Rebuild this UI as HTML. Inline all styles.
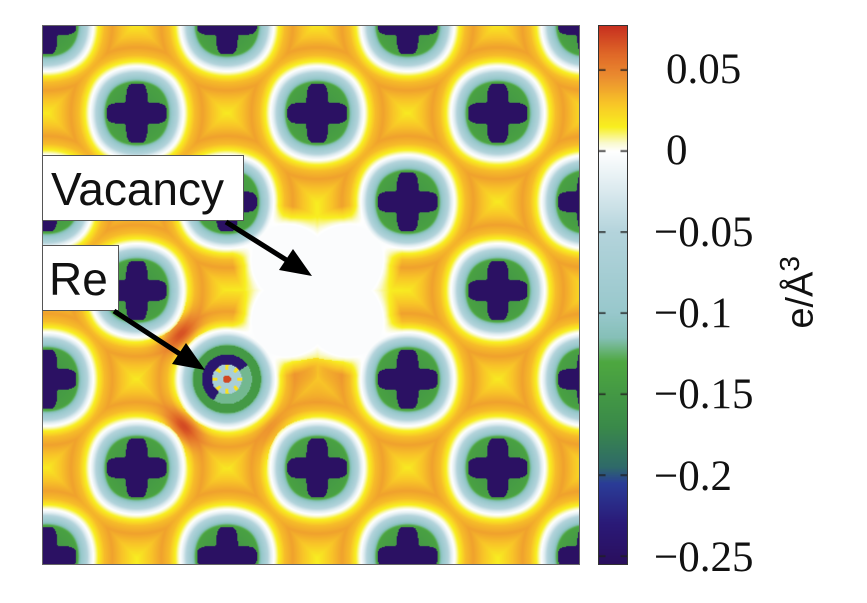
<!DOCTYPE html>
<html><head><meta charset="utf-8">
<style>
html,body{margin:0;padding:0;background:#fff;}
body{width:867px;height:603px;position:relative;overflow:hidden;font-family:"Liberation Sans",sans-serif;}
#map{position:absolute;left:42px;top:25px;width:538px;height:540px;border:1px solid #666;box-sizing:border-box;}
#cbar{position:absolute;left:598px;top:25px;width:30px;height:540px;border:1px solid #333;box-sizing:border-box;}
.tick{position:absolute;font-family:"Liberation Serif",serif;font-size:43px;color:#111;line-height:1;}
.lbl{position:absolute;background:#fff;border:1.5px solid #555;font-size:46px;color:#111;line-height:1;box-sizing:border-box;}
#unit{position:absolute;left:762px;top:268px;transform:rotate(-90deg);transform-origin:center;font-size:38px;color:#111;font-family:"Liberation Sans",sans-serif;white-space:nowrap;}
svg{position:absolute;left:0;top:0;}
</style></head><body>
<canvas id="map" width="538" height="540"></canvas>
<canvas id="cbar" width="30" height="540"></canvas>
<div id="ticks"></div>
<div id="unit">e/Å<sup style="font-size:28px">3</sup></div>
<div class="lbl" style="left:42px;top:155px;width:202px;height:66px;padding:10px 0 0 8px">Vacancy</div>
<div class="lbl" style="left:42px;top:245px;width:77px;height:66px;padding:10px 0 0 6px">Re</div>
<svg width="867" height="603">
<line x1="226" y1="222" x2="288" y2="261" stroke="#000" stroke-width="5"/>
<polygon points="312,276 279,270 293,249" fill="#000"/>
<line x1="114" y1="311" x2="183" y2="356" stroke="#000" stroke-width="5"/>
<polygon points="205,370 172,364 186,343" fill="#000"/>
</svg>
<script>
// colorbar data
const tickValues=[0.05,0,-0.05,-0.1,-0.15,-0.2,-0.25];
const tickLabels=["0.05","0","\u22120.05","\u22120.1","\u22120.15","\u22120.2","\u22120.25"];
const vMin=-0.255, vMax=0.077;
const cmapValues=[-0.255,-0.23,-0.205,-0.195,-0.17,-0.13,-0.115,-0.1,-0.05,-0.02,0,0.005,0.015,0.03,0.045,0.06,0.077];
const cmapColors=["#2b0f5e","#2a1a78","#2a3d98","#2f6a6a","#3a8a4a","#4ea840","#86c0b8","#98c8cc","#b4d4dc","#e2eef2","#ffffff","#fafad0","#f8f020","#f8c428","#ec9030","#e06828","#c83020"];
// lattice data (site indices)
const siteCols=[0,2,4,6,1,3,5,0,2,4,6,1,3,5,0,2,4,6,1,3,5,0,2,4,6];
const siteRows=[0,0,0,0,1,1,1,2,2,2,2,3,3,3,4,4,4,4,5,5,5,6,6,6,6];
const vacancyCol=[3], vacancyRow=[3];
const reCol=[2], reRow=[4];
// radial charge profile: distance (px) -> value
const profD=[0,30,34,40,44,47,52,58,66,76,90];
const profV=[-0.16,-0.14,-0.11,-0.06,-0.02,0,0.015,0.032,0.04,0.03,0.016];
// red hotspots near Re (lattice coords)
const hotCol=[1.45,1.5,2.65,3.0];
const hotRow=[3.45,4.55,4.7,3.9];
const hotVal=[0.035,0.035,0.028,0.015];

const X0=45-42, DX=90.6, Y0=23-25, DY=89;
const sx=c=>X0+DX*c, sy=r=>Y0+DY*r;
function hex(h){return [parseInt(h.substr(1,2),16),parseInt(h.substr(3,2),16),parseInt(h.substr(5,2),16)];}
const cm=cmapColors.map(hex);
function color(v){
  if(v<=cmapValues[0])return cm[0];
  for(let i=1;i<cmapValues.length;i++){if(v<=cmapValues[i]){const t=(v-cmapValues[i-1])/(cmapValues[i]-cmapValues[i-1]);const a=cm[i-1],b=cm[i];return [a[0]+(b[0]-a[0])*t,a[1]+(b[1]-a[1])*t,a[2]+(b[2]-a[2])*t];}}
  return cm[cm.length-1];
}
function prof(d){
  if(d>=profD[profD.length-1])return profV[profV.length-1];
  for(let i=1;i<profD.length;i++)if(d<=profD[i]){const t=(d-profD[i-1])/(profD[i]-profD[i-1]);return profV[i-1]+(profV[i]-profV[i-1])*t;}
}
const atoms=[];
for(let k=0;k<siteCols.length;k++){
  const c=siteCols[k],r=siteRows[k];
  if(c===vacancyCol[0]&&r===vacancyRow[0])continue;
  atoms.push({x:sx(c),y:sy(r),re:(c===reCol[0]&&r===reRow[0])});
}
const vx=sx(vacancyCol[0]), vy=sy(vacancyRow[0]);
const mc=document.getElementById('map').getContext('2d');
const W=538,H=540, img=mc.createImageData(W,H);
for(let y=0;y<H;y++)for(let x=0;x<W;x++){
  let best=1e9,ba=null,bdx=0,bdy=0;
  for(const a of atoms){const dx=x-a.x,dy=y-a.y;const d=Math.pow(dx*dx*dx*dx+dy*dy*dy*dy,0.25)*0.25+Math.hypot(dx,dy)*0.75;if(d<best){best=d;ba=a;bdx=dx;bdy=dy;}}
  let v=prof(best);
  const adx=Math.abs(bdx),ady=Math.abs(bdy);
  if(ba.re){
    const r=Math.hypot(bdx,bdy);
    const ang=Math.atan2(bdy,bdx);
    if(r<4)v=0.07;
    else if(r<15){v=-0.07;if(r>10&&Math.cos(ang*8)>0.5)v=0.02;}
    else if(r<25){v=(Math.sin(ang+0.8)<0.2)?-0.24:-0.12;}
    else if(r<34)v=-0.15;
    else v=prof(r-2);
  } else {
    const px=adx/30, py=ady/11, qx=adx/11, qy=ady/30;
    const plus=Math.min(Math.pow(px*px*px*px+py*py*py*py,0.25),Math.pow(qx*qx*qx*qx+qy*qy*qy*qy,0.25));
    if(plus<1||Math.hypot(adx,ady)<16)v=-0.25;
  }
  // vacancy
  const dvx=x-vx,dvy=y-vy;
  const dv=Math.hypot(dvx,dvy);
  const th=Math.atan2(dvy,dvx);
  const R=52+26*Math.abs(Math.sin(2*th));
  if(dv<R){if(v>-0.02)v=Math.min(v,-0.003);}
  else if(dv<R+22&&v>0){const t=(dv-R)/22;v=-0.003*(1-t)+v*t;}
  for(let h=0;h<hotCol.length;h++){const hx=sx(hotCol[h]),hy=sy(hotRow[h]);const g=Math.exp(-((x-hx)**2+(y-hy)**2)/(2*14*14));if(v>0.01)v+=hotVal[h]*g;}
  const c=color(v),i=(y*W+x)*4;img.data[i]=c[0];img.data[i+1]=c[1];img.data[i+2]=c[2];img.data[i+3]=255;
}
mc.putImageData(img,0,0);
// colorbar
const bc=document.getElementById('cbar').getContext('2d');
const BH=540, vy2=v=>BH-(v-vMin)/(vMax-vMin)*BH;
for(let y=0;y<BH;y++){const v=vMin+(BH-y)/BH*(vMax-vMin);const c=color(v);bc.fillStyle=`rgb(${c[0]|0},${c[1]|0},${c[2]|0})`;bc.fillRect(0,y,30,1);}
const tk=document.getElementById('ticks');
tickValues.forEach((v,i)=>{
  const yy=vy2(v);
  bc.fillStyle='#222';bc.fillRect(0,yy-0.5,7,1.5);bc.fillRect(23,yy-0.5,7,1.5);
  const d=document.createElement('div');d.className='tick';
  
  
  d.textContent=tickLabels[i];
  d.style.top=(25+yy-21)+'px';
  d.style.left=(v<0?654:666)+'px';
  tk.appendChild(d);
});
</script>
</body></html>
